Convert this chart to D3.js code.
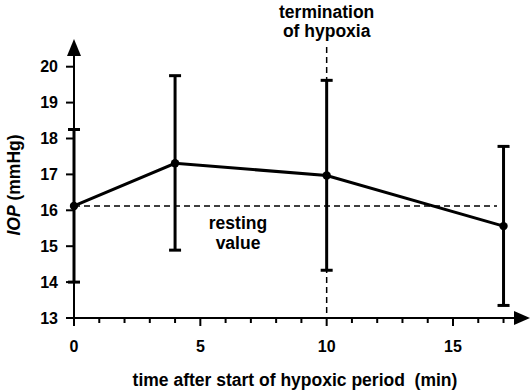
<!DOCTYPE html>
<html>
<head>
<meta charset="utf-8">
<script src="https://cdn.jsdelivr.net/npm/d3@7"></script>
<style>
  body { margin: 0; background: #fff; }
  text { font-family: "Liberation Sans", Arial, sans-serif; font-weight: bold; fill: #000; }
</style>
</head>
<body>
<svg id="chart" width="532" height="392"></svg>
<script>
// time (min) and IOP (mmHg), mean with error bar ends
const times = [0, 4, 10, 17];
const means = [16.12, 17.31, 16.97, 15.56];
const upper = [18.25, 19.75, 19.62, 17.78];
const lower = [14.0, 14.89, 14.33, 13.35];
const restingValue = 16.12;
const terminationTime = 10;
const yTicks = [13, 14, 15, 16, 17, 18, 19, 20];
const xMajorTicks = [0, 5, 10, 15];
const xMinorTicks = d3.range(0, 18);

const svg = d3.select('#chart');

const x = d3.scaleLinear().domain([0, 15]).range([74, 453]);
const y = d3.scaleLinear().domain([13, 20]).range([318, 66.7]);

const data = times.map((t, i) => ({ t, m: means[i], hi: upper[i], lo: lower[i] }));

// dashed reference lines
svg.append('line')
    .attr('x1', x(0)).attr('x2', 497)
    .attr('y1', y(restingValue)).attr('y2', y(restingValue))
    .attr('stroke', '#000').attr('stroke-width', 1.5)
    .attr('stroke-dasharray', '6,4');

svg.append('line')
    .attr('x1', x(terminationTime)).attr('x2', x(terminationTime))
    .attr('y1', 47).attr('y2', y(13))
    .attr('stroke', '#000').attr('stroke-width', 1.5)
    .attr('stroke-dasharray', '6,4');

// axes
const xAxisG = svg.append('g');
xAxisG.append('line')
    .attr('x1', 66).attr('x2', 516)
    .attr('y1', y(13)).attr('y2', y(13))
    .attr('stroke', '#000').attr('stroke-width', 2);
xAxisG.append('path')
    .attr('d', `M530,${y(13)} L514,${y(13) - 7} L514,${y(13) + 7} Z`)
    .attr('fill', '#000');
xAxisG.selectAll('.minor')
    .data(xMinorTicks)
    .join('line')
    .attr('x1', d => x(d)).attr('x2', d => x(d))
    .attr('y1', y(13)).attr('y2', d => y(13) + (d % 5 === 0 ? 8 : 5))
    .attr('stroke', '#000').attr('stroke-width', 2);
xAxisG.selectAll('.xlab')
    .data(xMajorTicks)
    .join('text')
    .attr('x', d => x(d))
    .attr('y', 352)
    .attr('text-anchor', 'middle')
    .attr('font-size', 16)
    .text(d => d);

const yAxisG = svg.append('g');
yAxisG.append('line')
    .attr('x1', x(0)).attr('x2', x(0))
    .attr('y1', y(13)).attr('y2', 54)
    .attr('stroke', '#000').attr('stroke-width', 2);
yAxisG.append('path')
    .attr('d', `M${x(0)},39 L${x(0) - 7},56 L${x(0) + 7},56 Z`)
    .attr('fill', '#000');
yAxisG.selectAll('.ytick')
    .data(yTicks)
    .join('line')
    .attr('x1', x(0) - 8).attr('x2', x(0))
    .attr('y1', d => y(d)).attr('y2', d => y(d))
    .attr('stroke', '#000').attr('stroke-width', 2);
yAxisG.selectAll('.ylab')
    .data(yTicks)
    .join('text')
    .attr('x', 58)
    .attr('y', d => y(d))
    .attr('dy', '0.36em')
    .attr('text-anchor', 'end')
    .attr('font-size', 16)
    .text(d => d);

// error bars
const bars = svg.append('g').attr('stroke', '#000').attr('stroke-width', 3);
bars.selectAll('.eb')
    .data(data)
    .join('line')
    .attr('x1', d => x(d.t)).attr('x2', d => x(d.t))
    .attr('y1', d => y(d.hi)).attr('y2', d => y(d.lo));
bars.selectAll('.capHi')
    .data(data)
    .join('line')
    .attr('x1', d => x(d.t) - 6).attr('x2', d => x(d.t) + 6)
    .attr('y1', d => y(d.hi)).attr('y2', d => y(d.hi));
bars.selectAll('.capLo')
    .data(data)
    .join('line')
    .attr('x1', d => x(d.t) - 6).attr('x2', d => x(d.t) + 6)
    .attr('y1', d => y(d.lo)).attr('y2', d => y(d.lo));

// mean line and points
svg.append('path')
    .datum(data)
    .attr('fill', 'none')
    .attr('stroke', '#000')
    .attr('stroke-width', 3)
    .attr('d', d3.line().x(d => x(d.t)).y(d => y(d.m)));

svg.selectAll('.pt')
    .data(data)
    .join('circle')
    .attr('cx', d => x(d.t))
    .attr('cy', d => y(d.m))
    .attr('r', 4.2)
    .attr('fill', '#000');

// annotations
svg.append('text')
    .attr('x', x(terminationTime)).attr('y', 18)
    .attr('text-anchor', 'middle').attr('font-size', 17.5)
    .text('termination');
svg.append('text')
    .attr('x', x(terminationTime)).attr('y', 37)
    .attr('text-anchor', 'middle').attr('font-size', 17.5)
    .text('of hypoxia');

svg.append('text')
    .attr('x', 238).attr('y', 229)
    .attr('text-anchor', 'middle').attr('font-size', 17.5)
    .text('resting');
svg.append('text')
    .attr('x', 238).attr('y', 249)
    .attr('text-anchor', 'middle').attr('font-size', 17.5)
    .text('value');

// axis titles
svg.append('text')
    .attr('x', 295).attr('y', 386)
    .attr('text-anchor', 'middle').attr('font-size', 17.5)
    .attr('xml:space', 'preserve')
    .text('time after start of hypoxic period  (min)');

const yTitle = svg.append('text')
    .attr('transform', 'translate(20,185) rotate(-90)')
    .attr('text-anchor', 'middle').attr('font-size', 17.5);
yTitle.append('tspan').attr('font-style', 'italic').text('IOP');
yTitle.append('tspan').text(' (mmHg)');
</script>
</body>
</html>
